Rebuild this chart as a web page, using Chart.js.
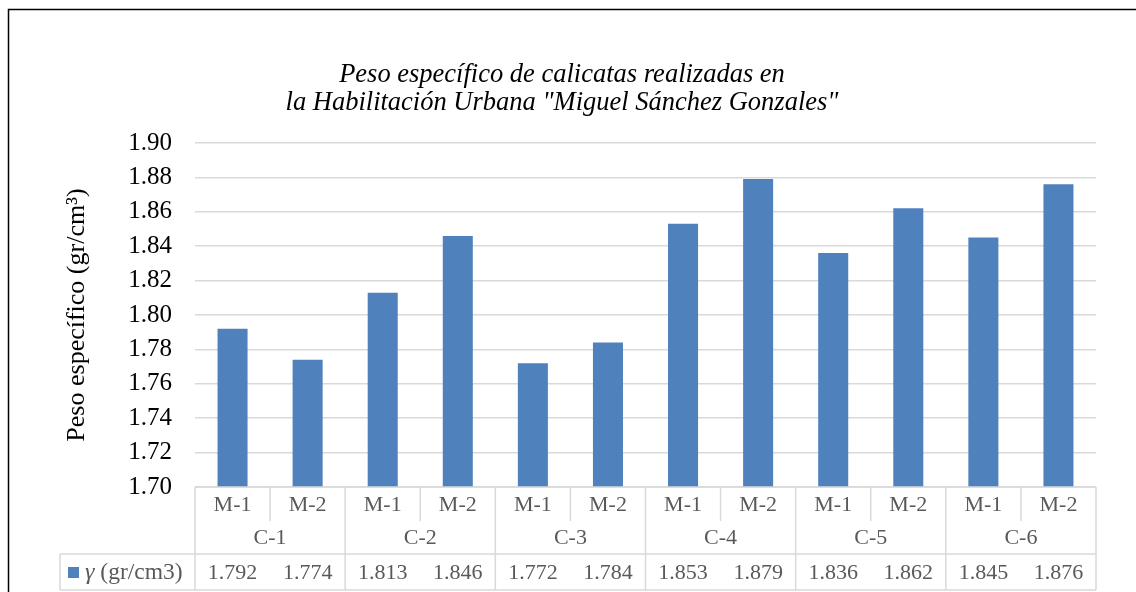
<!DOCTYPE html>
<html>
<head>
<meta charset="utf-8">
<script src="https://cdn.jsdelivr.net/npm/chart.js@4"></script>
<style>
  body { margin: 0; background: #fff; }
  canvas { display: block; }
</style>
</head>
<body>
<canvas id="chart" width="1136" height="592"></canvas>
<script>
// Data
const groups = ['C-1', 'C-2', 'C-3', 'C-4', 'C-5', 'C-6'];
const samples = ['M-1', 'M-2'];
const seriesLabel = 'γ (gr/cm3)';
const values = [1.792, 1.774, 1.813, 1.846, 1.772, 1.784, 1.853, 1.879, 1.836, 1.862, 1.845, 1.876];
const titleLines = ['Peso específico de calicatas realizadas en', 'la Habilitación Urbana "Miguel Sánchez Gonzales"'];
const yTitle = 'Peso específico (gr/cm³)';
const yMin = 1.70;
const yMax = 1.90;
const yStep = 0.02;

const labels = groups.flatMap(() => samples);

const FONT = "'Liberation Serif', 'Times New Roman', serif";
const BAR_COLOR = '#4f81bd';
const LINE_COLOR = '#d9d9d9';
const TEXT_GRAY = '#595959';

// Frame + title
const framePlugin = {
    id: 'frame',
    beforeDraw(chart) {
        const ctx = chart.ctx;
        ctx.save();
        ctx.strokeStyle = '#000';
        ctx.lineWidth = 1.5;
        ctx.beginPath();
        ctx.moveTo(8.5, 600);
        ctx.lineTo(8.5, 9.5);
        ctx.lineTo(1140, 9.5);
        ctx.stroke();

        ctx.fillStyle = '#000';
        ctx.font = `italic 26.5px ${FONT}`;
        ctx.textAlign = 'center';
        ctx.textBaseline = 'alphabetic';
        ctx.fillText(titleLines[0], 562, 82);
        ctx.fillText(titleLines[1], 562, 110);
        ctx.restore();
    }
};

// Data table under the plot (category labels + values)
const tablePlugin = {
    id: 'dataTable',
    afterDraw(chart) {
        const { ctx, chartArea } = chart;
        const x = chart.scales.x;
        const n = labels.length;
        const step = (x.right - x.left) / n;
        const top = chartArea.bottom;
        const row1 = top + 34;
        const row2 = top + 67;
        const row3 = top + 103;
        const tableLeft = 60;

        ctx.save();
        ctx.strokeStyle = LINE_COLOR;
        ctx.lineWidth = 1.5;
        ctx.beginPath();
        ctx.moveTo(x.left, top);
        ctx.lineTo(x.right, top);
        ctx.moveTo(tableLeft, row2);
        ctx.lineTo(x.right, row2);
        ctx.moveTo(tableLeft, row3);
        ctx.lineTo(x.right, row3);
        ctx.moveTo(tableLeft, row2);
        ctx.lineTo(tableLeft, row3);
        for (let i = 0; i <= n; i++) {
            const px = x.left + i * step;
            ctx.moveTo(px, top);
            ctx.lineTo(px, i % samples.length === 0 ? row3 : row1);
        }
        ctx.stroke();

        ctx.fillStyle = TEXT_GRAY;
        ctx.font = `22px ${FONT}`;
        ctx.textAlign = 'center';
        ctx.textBaseline = 'middle';
        labels.forEach((lab, i) => {
            const cx = x.getPixelForValue(i);
            ctx.fillText(lab, cx, (top + row1) / 2 + 1);
            ctx.fillText(values[i].toFixed(3), cx, (row2 + row3) / 2 + 1);
        });
        groups.forEach((g, gi) => {
            const cx = x.left + (gi + 0.5) * step * samples.length;
            ctx.fillText(g, cx, (row1 + row2) / 2 + 1);
        });

        // legend key
        ctx.fillStyle = BAR_COLOR;
        ctx.fillRect(68, 567, 11, 11);
        ctx.fillStyle = TEXT_GRAY;
        ctx.textAlign = 'left';
        ctx.font = `italic 24px ${FONT}`;
        const gamma = seriesLabel.slice(0, 1);
        ctx.fillText(gamma, 85, (row2 + row3) / 2 + 1);
        const gw = ctx.measureText(gamma).width;
        ctx.font = `23.5px ${FONT}`;
        ctx.fillText(seriesLabel.slice(1), 85 + gw, (row2 + row3) / 2 + 1);
        ctx.restore();
    }
};

new Chart(document.getElementById('chart'), {
    type: 'bar',
    data: {
        labels: labels,
        datasets: [{
            label: seriesLabel,
            data: values,
            backgroundColor: BAR_COLOR,
            barPercentage: 0.4,
            categoryPercentage: 1
        }]
    },
    options: {
        responsive: false,
        animation: false,
        devicePixelRatio: 1,
        layout: { padding: { left: 0, top: 143, right: 40, bottom: 105 } },
        plugins: {
            legend: { display: false },
            tooltip: { enabled: false }
        },
        scales: {
            x: { display: false },
            y: {
                min: yMin,
                max: yMax,
                afterFit: (scale) => { scale.width = 195; },
                ticks: {
                    stepSize: yStep,
                    padding: 23,
                    color: '#000',
                    font: { family: FONT, size: 25 },
                    callback: (v) => v.toFixed(2)
                },
                grid: { color: LINE_COLOR, lineWidth: 1.5, drawTicks: false },
                border: { display: false },
                title: {
                    display: true,
                    text: yTitle,
                    color: '#000',
                    font: { family: FONT, size: 26 },
                    padding: { top: 62, bottom: 0 }
                }
            }
        }
    },
    plugins: [framePlugin, tablePlugin]
});
</script>
</body>
</html>
